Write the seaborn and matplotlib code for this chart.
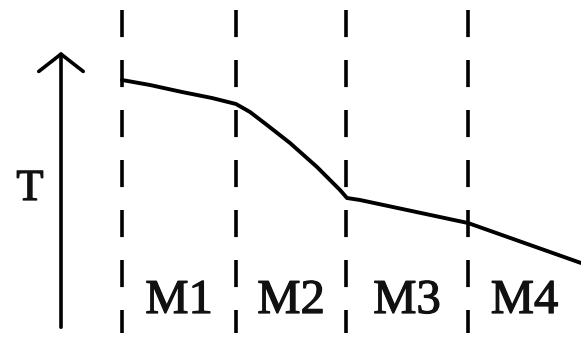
import pandas as pd
import matplotlib.pyplot as plt
import matplotlib.patheffects as pe
import seaborn as sns

boundary_x = [122, 236, 346, 468]
segment_labels = ["M1", "M2", "M3", "M4"]
curve_x = [122, 150, 182, 212, 236, 250, 267, 290, 317, 340, 347, 360, 468, 581]
curve_t = [258, 253, 246, 240, 234, 226, 213, 195, 171, 148, 140, 138, 115, 75]
axis_label = "T"

sns.set_theme(style="white")
plt.rcParams["font.family"] = ["Liberation Serif", "DejaVu Serif"]
plt.rcParams["lines.scale_dashes"] = False

fig = plt.figure(figsize=(5.81, 3.38), dpi=100)
ax = fig.add_axes([0, 0, 1, 1])
ax.set_xlim(0, 581)
ax.set_ylim(0, 338)
ax.axis("off")

# Dashed stage boundaries

for bx in boundary_x:
    ax.plot([bx, bx], [328, 5], color="black", lw=2.6, dashes=(19.5, 16.5))

# Temperature curve

df = pd.DataFrame({"x": curve_x, "T": curve_t})
sns.lineplot(data=df, x="x", y="T", sort=False, color="black", lw=2.8, ax=ax)

# Stage labels, centred between boundaries

bold_ish = [pe.withStroke(linewidth=0.9, foreground="#111111")]
edges = boundary_x + [581]
for i, lab in enumerate(segment_labels):
    cx = (edges[i] + edges[i + 1]) / 2
    ax.text(cx, 25, lab, ha="center", va="baseline", fontsize=35,
            color="#111111", path_effects=bold_ish)

# Vertical T axis arrow

ax.annotate(
    "",
    xy=(61, 289),
    xytext=(61, 8),
    arrowprops=dict(arrowstyle="->,head_length=1.25,head_width=1.6",
                    lw=2.6, color="black", mutation_scale=10),
)
ax.text(30, 138, axis_label, ha="center", va="baseline", fontsize=32,
        color="#111111", path_effects=bold_ish)

fig.savefig("out.png", dpi=100)
